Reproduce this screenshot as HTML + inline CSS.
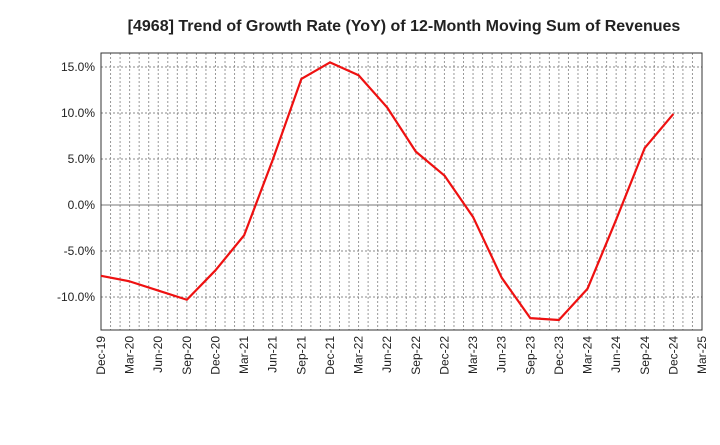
<!DOCTYPE html>
<html><head><meta charset="utf-8"><style>
body{margin:0;background:#fff;font-family:"Liberation Sans",sans-serif}
</style></head><body>
<svg id="chart" width="720" height="440" xmlns="http://www.w3.org/2000/svg" font-family="Liberation Sans, sans-serif">
<text x="404" y="31" text-anchor="middle" font-size="16" font-weight="bold" fill="#222">[4968]  Trend of Growth Rate (YoY) of 12-Month Moving Sum of Revenues</text>
<g id="grid"></g><g id="axes"></g><g id="series"></g>
</svg>
<script>
const xLabels=["Dec-19","Mar-20","Jun-20","Sep-20","Dec-20","Mar-21","Jun-21","Sep-21","Dec-21","Mar-22","Jun-22","Sep-22","Dec-22","Mar-23","Jun-23","Sep-23","Dec-23","Mar-24","Jun-24","Sep-24","Dec-24","Mar-25"];
const values=[-7.7,-8.3,-9.3,-10.3,-7.1,-3.3,4.9,13.7,15.5,14.1,10.6,5.8,3.2,-1.3,-7.9,-12.3,-12.5,-9.1,-1.6,6.2,9.9];
const yTicks=[15,10,5,0,-5,-10];
const L=101,R=702,T=53,B=330;
const NS="http://www.w3.org/2000/svg";
function x(i){return L+(R-L)*i/(xLabels.length-1);}
function y(v){return 205-v*9.2;}
function mk(tag,attrs,parent){const e=document.createElementNS(NS,tag);for(const k in attrs)e.setAttribute(k,attrs[k]);parent.appendChild(e);return e;}
const grid=document.getElementById('grid'),axes=document.getElementById('axes'),series=document.getElementById('series');
const months=(xLabels.length-1)*3;
for(let m=1;m<months;m++){const xx=L+(R-L)*m/months;
const g=mk('line',{x1:xx,x2:xx,y1:T,y2:B,stroke:'#999','stroke-width':1,'stroke-dasharray':'2,2'},grid);

}
yTicks.forEach(v=>{const yy=y(v);
const g=mk('line',{x1:L,x2:R,y1:yy,y2:yy,stroke:v===0?'#777':'#888','stroke-width':1,'stroke-dasharray':v===0?'':'2,2'},grid);


const t=mk('text',{x:L-6,y:yy+4,'text-anchor':'end','font-size':12,fill:'#222'},axes);t.textContent=v.toFixed(1)+'%';

});
const fr=mk('rect',{x:L,y:T,width:R-L,height:B-T,fill:'none',stroke:'#333','stroke-width':1},axes);


xLabels.forEach((lab,i)=>{const xx=x(i);
const t=mk('text',{x:0,y:0,'text-anchor':'end','font-size':12,fill:'#222',transform:`translate(${xx+4},${B+6}) rotate(-90)`},axes);t.textContent=lab;

});
const pts=values.map((v,i)=>x(i)+','+y(v)).join(' ');
const pl=mk('polyline',{points:pts,fill:'none',stroke:'#ee1111','stroke-width':2.2,'stroke-linejoin':'round'},series);


</script>
</body></html>
